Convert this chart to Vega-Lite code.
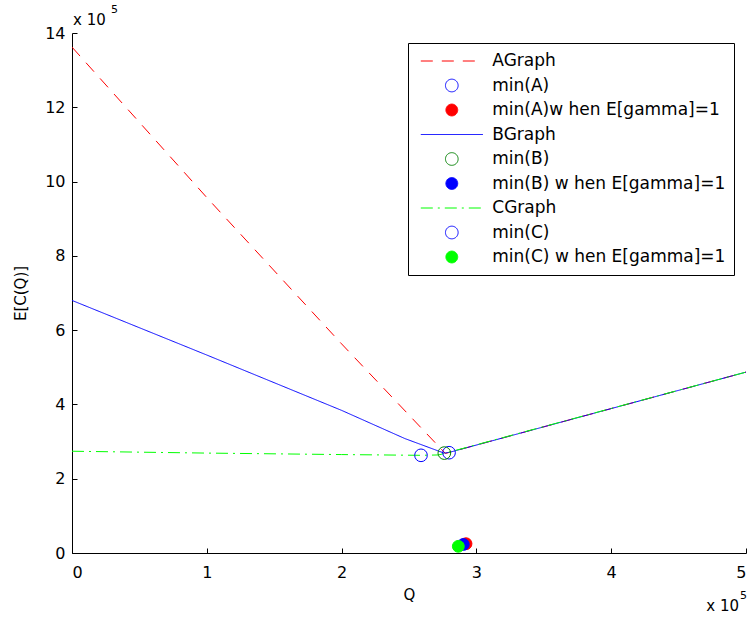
{
  "$schema": "https://vega.github.io/schema/vega-lite/v6.json",
  "width": 674,
  "height": 520,
  "autosize": "none",
  "padding": {"left": 72, "top": 33, "right": 9, "bottom": 66},
  "background": "white",
  "config": {
    "view": {"stroke": null},
    "font": "DejaVu Sans",
    "axis": {
      "grid": false,
      "domainColor": "black",
      "domainWidth": 1,
      "tickColor": "black",
      "tickWidth": 1,
      "tickSize": -5,
      "labelColor": "black",
      "labelFont": "DejaVu Sans",
      "labelFontSize": 16,
      "titleFont": "DejaVu Sans",
      "titleFontSize": 15,
      "titleFontWeight": "normal",
      "titleColor": "black"
    },
    "legend": {"symbolFillColor": "white"}
  },
  "datasets": {
    "curves": [
      {"series": "AGraph", "Q": 0, "EC": 13.62},
      {"series": "AGraph", "Q": 1, "EC": 9.57},
      {"series": "AGraph", "Q": 2, "EC": 5.63},
      {"series": "AGraph", "Q": 2.77, "EC": 2.68},
      {"series": "AGraph", "Q": 2.8, "EC": 2.71},
      {"series": "AGraph", "Q": 5, "EC": 4.87},
      {"series": "BGraph", "Q": 0, "EC": 6.8},
      {"series": "BGraph", "Q": 1, "EC": 5.33},
      {"series": "BGraph", "Q": 2, "EC": 3.84},
      {"series": "BGraph", "Q": 2.47, "EC": 3.08},
      {"series": "BGraph", "Q": 2.76, "EC": 2.69},
      {"series": "BGraph", "Q": 2.8, "EC": 2.71},
      {"series": "BGraph", "Q": 5, "EC": 4.87},
      {"series": "CGraph", "Q": 0, "EC": 2.74},
      {"series": "CGraph", "Q": 1, "EC": 2.69},
      {"series": "CGraph", "Q": 2, "EC": 2.65},
      {"series": "CGraph", "Q": 2.59, "EC": 2.63},
      {"series": "CGraph", "Q": 2.72, "EC": 2.64},
      {"series": "CGraph", "Q": 5, "EC": 4.87}
    ],
    "minima": [
      {"series": "min(A)", "Q": 2.797, "EC": 2.7},
      {"series": "min(A)w hen E[gamma]=1", "Q": 2.923, "EC": 0.25},
      {"series": "min(B)", "Q": 2.762, "EC": 2.69},
      {"series": "min(B) w hen E[gamma]=1", "Q": 2.903, "EC": 0.23},
      {"series": "min(C)", "Q": 2.589, "EC": 2.63},
      {"series": "min(C) w hen E[gamma]=1", "Q": 2.866, "EC": 0.18}
    ],
    "anchor": [{}]
  },
  "layer": [
    {
      "data": {"name": "curves"},
      "mark": {"type": "line", "strokeWidth": 1, "clip": true},
      "encoding": {
        "x": {
          "field": "Q", "type": "quantitative",
          "scale": {"domain": [0, 5], "nice": false},
          "axis": {"values": [0, 1, 2, 3, 4, 5], "format": "d", "labelPadding": 16, "title": "Q", "titlePadding": 7}
        },
        "y": {
          "field": "EC", "type": "quantitative",
          "scale": {"domain": [0, 14], "nice": false},
          "axis": {"values": [0, 2, 4, 6, 8, 10, 12, 14], "format": "d", "labelPadding": 12, "title": "E[C(Q)]", "titlePadding": 16}
        },
        "stroke": {
          "field": "series", "type": "nominal", "title": null,
          "scale": {
            "domain": ["AGraph", "min(A)", "min(A)w hen E[gamma]=1", "BGraph", "min(B)", "min(B) w hen E[gamma]=1", "CGraph", "min(C)", "min(C) w hen E[gamma]=1"],
            "range": ["#ff0000", "#0000ff", "#ff0000", "#0000ff", "#008000", "#0000ff", "#00ff00", "#0000ff", "#00ff00"]
          },
          "legend": {
            "orient": "none", "legendX": 336, "legendY": 10,
            "padding": 8, "symbolOffset": 4.3, "labelOffset": 9,
            "clipHeight": 20, "rowPadding": 4.5,
            "strokeColor": "black", "fillColor": "white",
            "labelFont": "DejaVu Sans", "labelFontSize": 17, "labelColor": "black",
            "labelLimit": 400, "symbolStrokeWidth": 1, "symbolOpacity": 1
          }
        },
        "strokeDash": {
          "field": "series", "type": "nominal", "title": null,
          "scale": {
            "domain": ["AGraph", "min(A)", "min(A)w hen E[gamma]=1", "BGraph", "min(B)", "min(B) w hen E[gamma]=1", "CGraph", "min(C)", "min(C) w hen E[gamma]=1"],
            "range": [[12, 9], [1, 0], [1, 0], [1, 0], [1, 0], [1, 0], [12, 5, 2, 5], [1, 0], [1, 0]]
          }
        }
      }
    },
    {
      "data": {"name": "minima"},
      "mark": {"type": "point", "strokeWidth": 1, "opacity": 1},
      "encoding": {
        "x": {"field": "Q", "type": "quantitative"},
        "y": {"field": "EC", "type": "quantitative"},
        "stroke": {"field": "series", "type": "nominal", "title": null},
        "fill": {
          "field": "series", "type": "nominal", "title": null,
          "scale": {
            "domain": ["AGraph", "min(A)", "min(A)w hen E[gamma]=1", "BGraph", "min(B)", "min(B) w hen E[gamma]=1", "CGraph", "min(C)", "min(C) w hen E[gamma]=1"],
            "range": ["transparent", "transparent", "#ff0000", "transparent", "transparent", "#0000ff", "transparent", "transparent", "#00ff00"]
          }
        },
        "shape": {
          "field": "series", "type": "nominal", "title": null,
          "scale": {
            "domain": ["AGraph", "min(A)", "min(A)w hen E[gamma]=1", "BGraph", "min(B)", "min(B) w hen E[gamma]=1", "CGraph", "min(C)", "min(C) w hen E[gamma]=1"],
            "range": ["stroke", "circle", "circle", "stroke", "circle", "circle", "stroke", "circle", "circle"]
          }
        },
        "size": {
          "field": "series", "type": "nominal", "title": null,
          "scale": {
            "type": "ordinal",
            "domain": ["AGraph", "min(A)", "min(A)w hen E[gamma]=1", "BGraph", "min(B)", "min(B) w hen E[gamma]=1", "CGraph", "min(C)", "min(C) w hen E[gamma]=1"],
            "range": [3844, 160, 140, 3844, 160, 140, 3844, 160, 140]
          }
        }
      }
    },
    {
      "data": {"name": "anchor"},
      "mark": {"type": "text", "text": "x 10", "align": "left", "baseline": "alphabetic", "dx": 1, "dy": -8, "fontSize": 15, "font": "DejaVu Sans", "color": "black"},
      "encoding": {"x": {"datum": 0, "type": "quantitative"}, "y": {"datum": 14, "type": "quantitative"}}
    },
    {
      "data": {"name": "anchor"},
      "mark": {"type": "text", "text": "5", "align": "left", "baseline": "alphabetic", "dx": 39, "dy": -20, "fontSize": 11, "font": "DejaVu Sans", "color": "black"},
      "encoding": {"x": {"datum": 0, "type": "quantitative"}, "y": {"datum": 14, "type": "quantitative"}}
    },
    {
      "data": {"name": "anchor"},
      "mark": {"type": "text", "text": "x 10", "align": "right", "baseline": "alphabetic", "dx": -7, "dy": 58, "fontSize": 15, "font": "DejaVu Sans", "color": "black"},
      "encoding": {"x": {"datum": 5, "type": "quantitative"}, "y": {"datum": 0, "type": "quantitative"}}
    },
    {
      "data": {"name": "anchor"},
      "mark": {"type": "text", "text": "5", "align": "left", "baseline": "alphabetic", "dx": -6, "dy": 46, "fontSize": 11, "font": "DejaVu Sans", "color": "black"},
      "encoding": {"x": {"datum": 5, "type": "quantitative"}, "y": {"datum": 0, "type": "quantitative"}}
    }
  ]
}
